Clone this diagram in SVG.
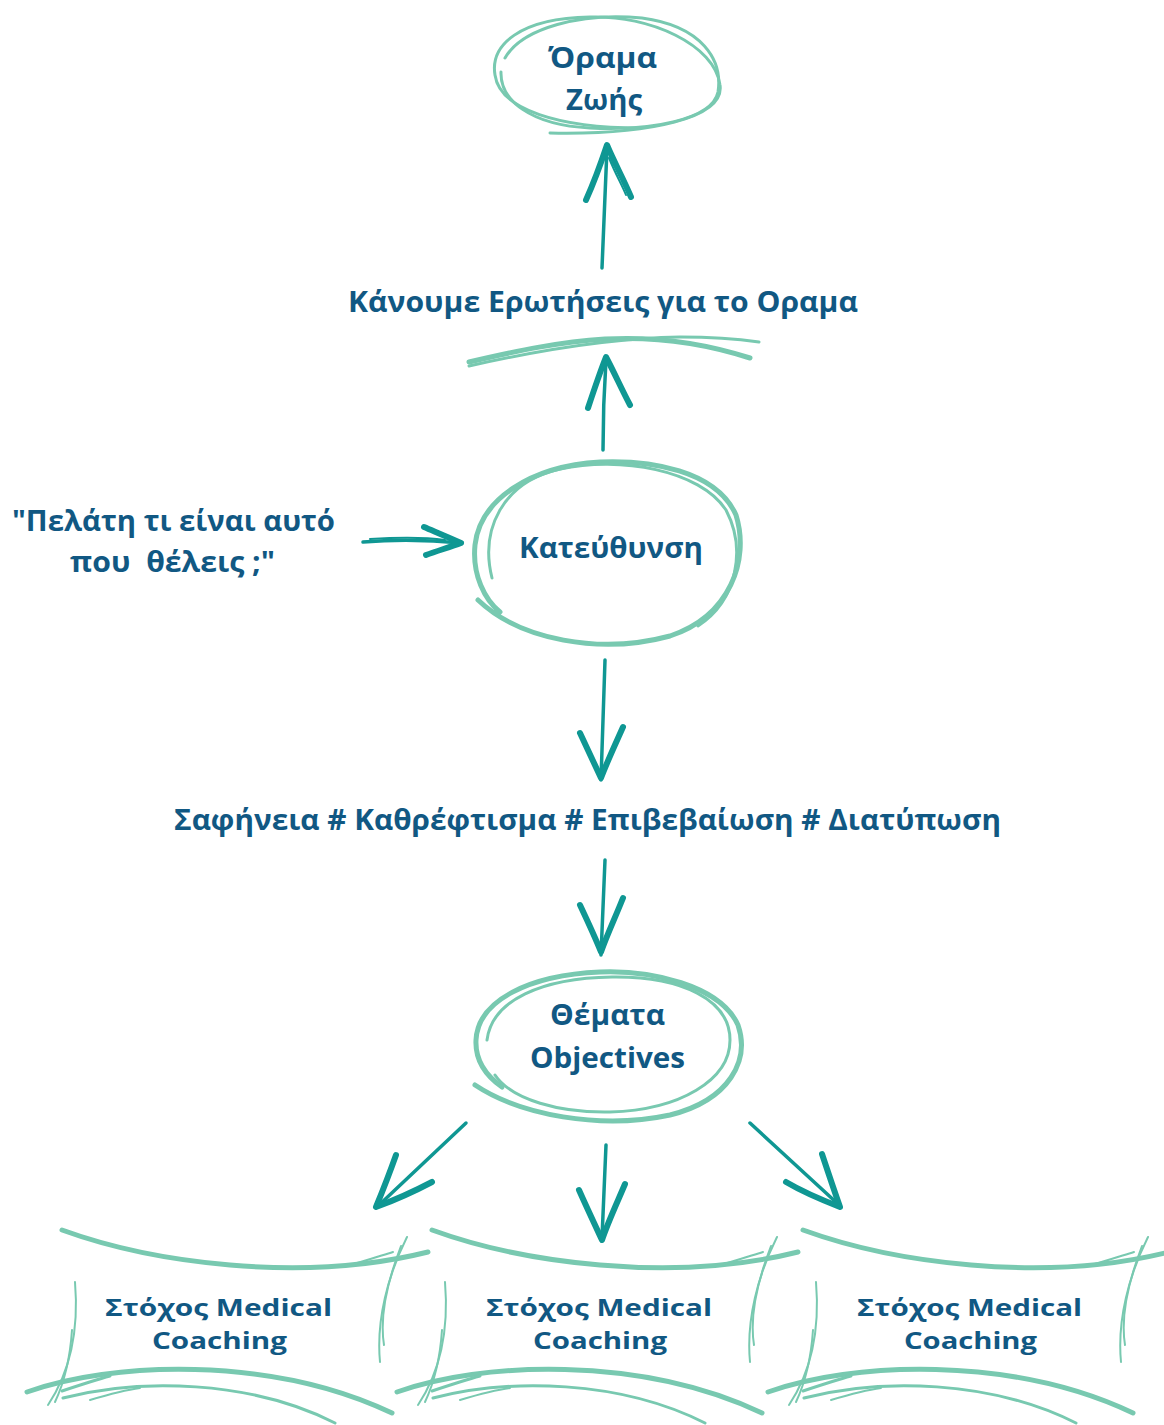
<svg xmlns="http://www.w3.org/2000/svg" width="1164" height="1425" viewBox="0 0 1164 1425">
<style>
.sk{fill:none;stroke:#78c9b0;stroke-linecap:round;stroke-linejoin:round}
.w3{stroke-width:3}
.w5{stroke-width:5}
.w2{stroke-width:2}
.ar{fill:none;stroke:#0f9793;stroke-linecap:round;stroke-linejoin:round}
.sh{stroke-width:3.5}
.bb{stroke-width:6}
.t{font-family:"Open Sans","Noto Sans",sans-serif;font-weight:700;font-size:29px;fill:#115883}
.bx{font-size:24px}
</style>
<defs>
<g id="boxshape">
<path class="sk w5" d="M62,1230 C150,1262 300,1284 428,1252"/>
<path class="sk w2" d="M347,1266 C365,1261 380,1256 393,1252"/>
<path class="sk w2" d="M407,1237 C388,1275 376,1320 380,1362"/>
<path class="sk w2" d="M401,1246 C386,1285 380,1320 384,1345"/>
<path class="sk w2" d="M75,1282 C79,1330 70,1372 48,1405"/>
<path class="sk w2" d="M72,1330 C70,1360 63,1385 55,1402"/>
<path class="sk w5" d="M27,1392 C110,1362 270,1355 392,1413"/>
<path class="sk w3" d="M63,1398 C140,1378 250,1380 335,1423"/>
<path class="sk w3" d="M62,1391 C80,1385 95,1380 110,1376"/>
<path class="sk w2" d="M90,1400 C110,1394 125,1390 140,1388"/>
</g>
</defs>

<g id="node-orama">
<path class="sk w3" d="M550,133 C650,135 725,118 720,85 C715,45 650,15 590,17 C520,18 490,45 495,75 C500,110 560,128 640,128"/>
<path class="sk w3" d="M505,58 C522,28 582,12 642,18 C702,26 723,60 718,92 C712,120 650,131 590,128 C530,125 500,100 501,72"/>
<text class="t" x="548" y="68" textLength="109" lengthAdjust="spacingAndGlyphs">Όραμα</text>
<text class="t" x="566" y="110" textLength="76" lengthAdjust="spacingAndGlyphs">Ζωής</text>
</g>

<g id="node-erotiseis">
<text class="t" x="348" y="312" font-size="28" textLength="510" lengthAdjust="spacingAndGlyphs">Κάνουμε Ερωτήσεις για το Οραμα</text>
<path class="sk w5" d="M469,362 C520,350 560,342 605,339 C660,336 710,345 750,358"/>
<path class="sk w3" d="M469,366 C540,350 610,338 680,337 C720,337 745,340 759,342"/>
</g>

<g id="node-pelatis">
<text class="t" x="12" y="531" textLength="323" lengthAdjust="spacingAndGlyphs">"Πελάτη τι είναι αυτό</text>
<text class="t" x="70" y="572" textLength="205" lengthAdjust="spacingAndGlyphs" xml:space="preserve">που  θέλεις ;"</text>
</g>

<g id="node-kateuthynsi">
<path class="sk w5" d="M478,600 C520,640 600,655 670,636 C730,616 750,560 736,515 C716,470 650,460 600,462 C530,466 480,500 475,545 C472,575 485,600 500,612"/>
<path class="sk w3" d="M492,578 C480,530 502,482 560,469 C620,456 700,470 726,510 C746,548 738,600 698,626"/>
<text class="t" x="519" y="558" textLength="184" lengthAdjust="spacingAndGlyphs">Κατεύθυνση</text>
</g>

<g id="node-safineia">
<text class="t" x="174" y="830" textLength="827" lengthAdjust="spacingAndGlyphs">Σαφήνεια # Καθρέφτισμα # Επιβεβαίωση # Διατύπωση</text>
</g>

<g id="node-themata">
<path class="sk w5" d="M475,1085 C520,1115 600,1130 670,1115 C730,1100 750,1060 738,1025 C720,985 650,970 600,972 C530,975 478,1000 476,1040 C475,1060 485,1075 502,1087"/>
<path class="sk w3" d="M487,1040 C492,1000 542,978 612,977 C682,976 730,1000 730,1040 C730,1080 680,1110 610,1112 C560,1113 512,1100 495,1075"/>
<text class="t" x="550" y="1025" textLength="115" lengthAdjust="spacingAndGlyphs">Θέματα</text>
<text class="t" x="530" y="1068" textLength="155" lengthAdjust="spacingAndGlyphs">Objectives</text>
</g>

<g id="node-stoxos-1">
<use href="#boxshape"/>
<text class="t bx" x="105" y="1316" textLength="227" lengthAdjust="spacingAndGlyphs">Στόχος Medical</text>
<text class="t bx" x="152" y="1349" textLength="135" lengthAdjust="spacingAndGlyphs">Coaching</text>
</g>
<g id="node-stoxos-2">
<use href="#boxshape" transform="translate(370,0)"/>
<text class="t bx" x="486" y="1316" textLength="226" lengthAdjust="spacingAndGlyphs">Στόχος Medical</text>
<text class="t bx" x="533" y="1349" textLength="134" lengthAdjust="spacingAndGlyphs">Coaching</text>
</g>
<g id="node-stoxos-3">
<use href="#boxshape" transform="translate(741,0)"/>
<text class="t bx" x="857" y="1316" textLength="225" lengthAdjust="spacingAndGlyphs">Στόχος Medical</text>
<text class="t bx" x="904" y="1349" textLength="133" lengthAdjust="spacingAndGlyphs">Coaching</text>
</g>

<g id="connectors">
<path class="ar sh" d="M602,268 L607,148"/>
<path class="ar bb" d="M586,200 C595,180 602,160 607,145 C614,162 624,180 631,197"/>
<path class="ar w2" d="M609,158 C616,175 622,185 626,195"/>
<path class="ar sh" d="M603,450 C603,420 604,390 606,360"/>
<path class="ar bb" d="M588,408 C594,390 600,372 606,357 C614,372 622,390 630,405"/>
<path class="ar sh" d="M363,542 C400,539 430,540 462,543"/>
<path class="ar w2" d="M370,539 C400,537 425,537 445,540"/>
<path class="ar bb" d="M424,527 C438,533 450,538 461,543 C450,547 437,551 426,555"/>
<path class="ar sh" d="M605,660 L601,780"/>
<path class="ar bb" d="M580,733 C588,750 595,765 601,778 C607,762 615,745 623,727"/>
<path class="ar sh" d="M605,860 L601,955"/>
<path class="ar bb" d="M580,905 C588,922 595,937 601,952 C607,935 615,918 623,898"/>
<path class="ar sh" d="M466,1123 L378,1206"/>
<path class="ar bb" d="M396,1155 C390,1172 383,1190 376,1207 C395,1200 413,1192 432,1182"/>
<path class="ar sh" d="M606,1145 L602,1238"/>
<path class="ar bb" d="M579,1190 C587,1208 595,1225 602,1240 C608,1222 617,1203 625,1184"/>
<path class="ar sh" d="M750,1123 L838,1204"/>
<path class="ar bb" d="M822,1154 C828,1172 834,1190 840,1207 C822,1200 803,1192 786,1182"/>
</g>
</svg>
